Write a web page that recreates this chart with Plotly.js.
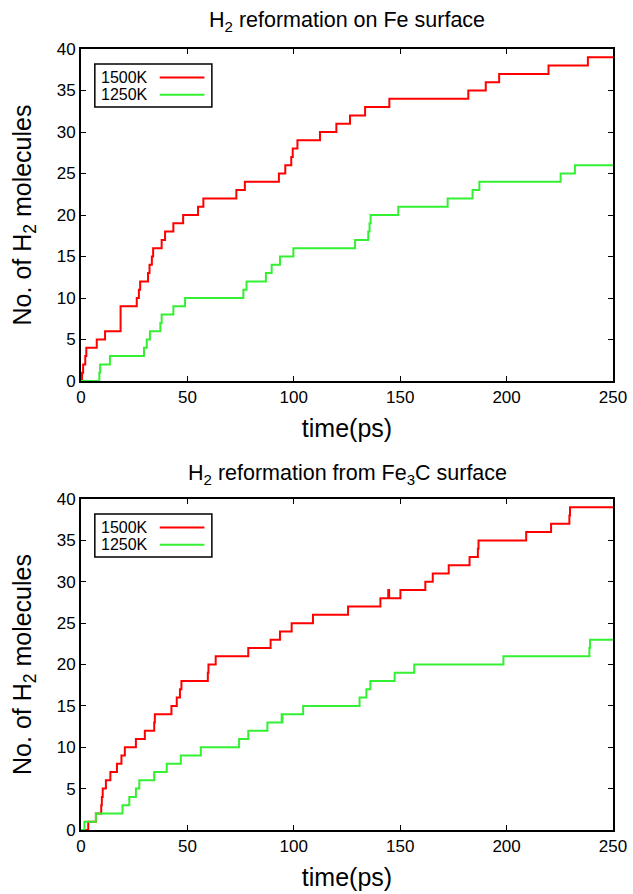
<!DOCTYPE html>
<html>
<head>
<meta charset="utf-8">
<script src="https://cdn.plot.ly/plotly-3.0.1.min.js"></script>
<style>html,body{margin:0;padding:0;background:#fff;}#chart{width:633px;height:894px;}</style>
</head>
<body>
<div id="chart"></div>
<script>
// ---- data ----
const panelTitles = ['H<sub>2</sub> reformation on Fe surface', 'H<sub>2</sub> reformation from Fe<sub>3</sub>C surface'];
const seriesNames = ['1500K', '1250K'];
const xTitle = 'time(ps)';
const yTitle = 'No. of H<sub>2</sub> molecules';

// Top panel: Fe surface
const feT1500 = [0, 0.5, 1, 2, 2.5, 7.4, 11.3, 18.6, 26.2, 27.2, 27.8, 31.5, 32.2, 33.3, 33.9, 37.9, 39.5, 43.4, 48, 55, 57.5, 73, 77, 93, 96, 98.8, 99.5, 101.7, 112.3, 120, 126.4, 133.5, 144.9, 182, 190.2, 196.5, 219.7, 238.2, 250];
const feN1500 = [0, 1, 2, 3, 4, 5, 6, 9, 10, 11, 12, 13, 14, 15, 16, 17, 18, 19, 20, 21, 22, 23, 24, 25, 26, 27, 28, 29, 30, 31, 32, 33, 34, 35, 36, 37, 38, 39, 39];
const feT1250 = [0, 8.6, 9, 13.6, 29.6, 30.9, 32.4, 37.3, 37.9, 43.4, 48.9, 76.3, 77.8, 86.9, 89.6, 93.5, 99.8, 128.8, 135, 135.6, 136.1, 149.1, 172.3, 184, 187.2, 225.4, 232.1, 250];
const feN1250 = [0, 1, 2, 3, 4, 5, 6, 7, 8, 9, 10, 11, 12, 13, 14, 15, 16, 17, 18, 19, 20, 21, 22, 23, 24, 25, 26, 26];

// Bottom panel: Fe3C surface
const fcT1500 = [0, 3.4, 7, 9.5, 9.8, 10.2, 11.7, 13.8, 16.9, 19, 20.6, 25.8, 30, 34.4, 34.7, 42.5, 45, 46.5, 47.2, 59.6, 59.9, 63.3, 78.6, 89.1, 93.5, 99, 109, 125.5, 140.7, 144.4, 144.8, 150.1, 161.8, 165.3, 172.8, 182.6, 186.5, 186.8, 209.2, 220.9, 229.5, 229.8, 250];
const fcN1500 = [0, 1, 2, 3, 4, 5, 6, 7, 8, 9, 10, 11, 12, 13, 14, 15, 16, 17, 18, 19, 20, 21, 22, 23, 24, 25, 26, 27, 28, 29, 28, 29, 30, 31, 32, 33, 34, 35, 36, 37, 38, 39, 39];
const fcT1250 = [0, 1.6, 7, 19.5, 22.7, 25.8, 27.4, 34.4, 40.3, 46.9, 56.3, 74.3, 78.6, 87.6, 94.3, 94.5, 94.7, 104.4, 130.9, 134.1, 136, 147.4, 156.6, 198.5, 238.9, 239.2, 250];
const fcN1250 = [0, 1, 2, 3, 4, 5, 6, 7, 8, 9, 10, 11, 12, 13, 14, 13, 14, 15, 16, 17, 18, 19, 20, 21, 22, 23, 23];

const colors = ['#ff0000', '#33f033'];
const FONT = 'Liberation Sans, Arial, sans-serif';

function tr(x, y, ci, xa, ya) {
  return {x: x, y: y, type: 'scatter', mode: 'lines', line: {shape: 'hv', color: colors[ci], width: 2},
          xaxis: xa, yaxis: ya, name: seriesNames[ci], showlegend: false, hoverinfo: 'skip'};
}

const data = [
  tr(feT1500, feN1500, 0, 'x', 'y'),
  tr(feT1250, feN1250, 1, 'x', 'y'),
  tr(fcT1500, fcN1500, 0, 'x2', 'y2'),
  tr(fcT1250, fcN1250, 1, 'x2', 'y2')
];

function xax(anchor) {
  return {anchor: anchor, domain: [0, 1], range: [0, 250], dtick: 50, tick0: 0,
    ticks: 'inside', ticklen: 5, tickwidth: 1, tickcolor: '#000', mirror: 'ticks',
    showline: true, linewidth: 2, linecolor: '#000', showgrid: false, zeroline: false,
    tickfont: {family: FONT, size: 17, color: '#000'},
    title: {text: xTitle, font: {family: FONT, size: 25, color: '#000'}, standoff: 13}};
}
function yax(anchor, dom) {
  return {anchor: anchor, domain: dom, range: [0, 40], dtick: 5, tick0: 0,
    ticks: 'inside', ticklen: 5, tickwidth: 1, tickcolor: '#000', mirror: 'ticks',
    showline: true, linewidth: 2, linecolor: '#000', showgrid: false, zeroline: false,
    tickfont: {family: FONT, size: 17, color: '#000'},
    title: {text: yTitle, font: {family: FONT, size: 25, color: '#000'}, standoff: 18}};
}

const shapes = [];
const annotations = [];
function legend(xr, yr) {
  shapes.push({type: 'rect', xref: xr + ' domain', yref: yr + ' domain', x0: 0.026, x1: 0.246, y0: 0.825, y1: 0.955,
    line: {color: '#000', width: 1.5}, fillcolor: 'rgba(0,0,0,0)'});
  const rows = [0.914, 0.862];
  for (let i = 0; i < 2; i++) {
    annotations.push({xref: xr + ' domain', yref: yr + ' domain', x: 0.034, y: rows[i], xanchor: 'left', yanchor: 'middle',
      text: seriesNames[i], showarrow: false, font: {family: FONT, size: 16, color: '#000'}});
    shapes.push({type: 'line', xref: xr + ' domain', yref: yr + ' domain', x0: 0.148, x1: 0.232, y0: rows[i], y1: rows[i],
      line: {color: colors[i], width: 2}});
  }
}
legend('x', 'y');
legend('x2', 'y2');

annotations.push({xref: 'x domain', yref: 'paper', x: 0.5, y: 1.0346, xanchor: 'center', yanchor: 'middle',
  text: panelTitles[0], showarrow: false, font: {family: FONT, size: 21.5, color: '#000'}});
annotations.push({xref: 'x2 domain', yref: 'paper', x: 0.5, y: 0.4558, xanchor: 'center', yanchor: 'middle',
  text: panelTitles[1], showarrow: false, font: {family: FONT, size: 21.5, color: '#000'}});

const layout = {
  width: 633, height: 894,
  margin: {l: 81, r: 20, t: 49, b: 64},
  paper_bgcolor: '#fff', plot_bgcolor: '#fff',
  showlegend: false,
  xaxis: xax('y'),
  yaxis: yax('x', [0.5749, 1]),
  xaxis2: xax('y2'),
  yaxis2: yax('x2', [0, 0.4238]),
  shapes: shapes,
  annotations: annotations
};

Plotly.newPlot('chart', data, layout, {staticPlot: true, displayModeBar: false});
</script>
</body>
</html>
